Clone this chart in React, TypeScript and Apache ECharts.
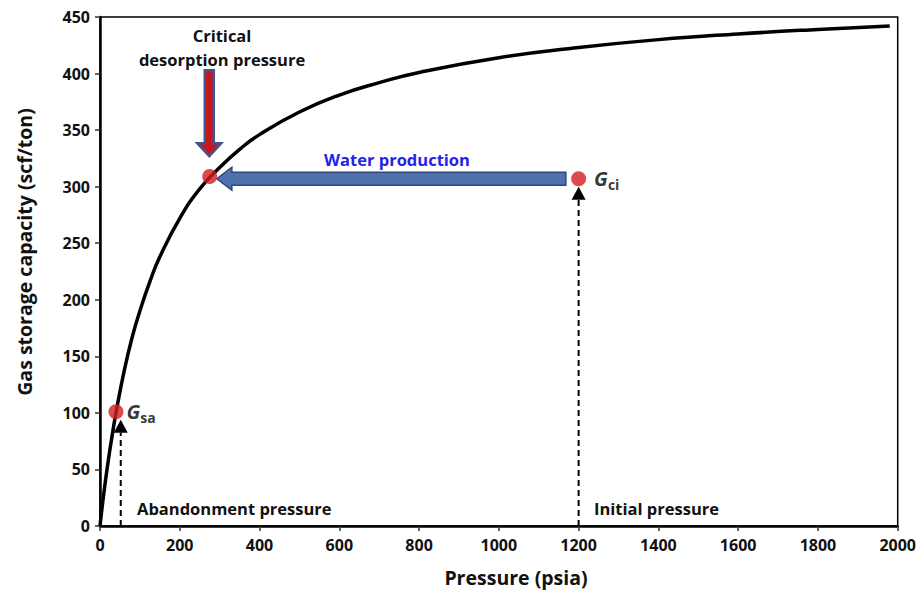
import React, { useEffect, useRef } from "react";
import * as echarts from "echarts";

// Langmuir-type isotherm
const pressures = [0, 10, 20, 30, 40, 60, 80, 100, 125, 150, 200, 250, 300, 350, 400, 500, 600, 700, 800, 1000, 1200, 1400, 1600, 1800, 1980];
const capacities = [0, 30, 56, 79, 100, 136, 166, 190, 216, 238, 272, 298, 317, 333, 346, 366, 381, 392, 401, 414, 423, 430, 435, 439, 442];

// Key points [pressure, capacity]
const pointGsa = [40, 101];
const pointCritical = [275, 309];
const pointGci = [1200, 307];

// Arrows [x1, y1, x2, y2] in data units
const criticalArrow = [274, 403, 274, 327];
const waterArrow = [1168, 307, 293, 307];
const abandonArrow = [52, 0, 52, 94];
const initialArrow = [1200, 0, 1200, 300];

const xTicks = { min: 0, max: 2000, interval: 200 };
const yTicks = { min: 0, max: 450, interval: 50 };

const FONT = "'Open Sans', 'DejaVu Sans', sans-serif";

const blockStyles = [
  { fill: "#c8161e", stroke: "#3e5590", lineWidth: 2.5, shaft: 9, head: 24, headLen: 13 },
  { fill: "#5070ad", stroke: "#2f4878", lineWidth: 1.5, shaft: 13, head: 23, headLen: 15 },
];

function arrowGeom(api: any, headLen: number) {
  const a = api.coord([api.value(0), api.value(1)]);
  const b = api.coord([api.value(2), api.value(3)]);
  const dx = b[0] - a[0];
  const dy = b[1] - a[1];
  const len = Math.sqrt(dx * dx + dy * dy) || 1;
  const ux = dx / len;
  const uy = dy / len;
  const nx = -uy;
  const ny = ux;
  const base = [b[0] - ux * headLen, b[1] - uy * headLen];
  return { a, b, base, nx, ny };
}

export default function App() {
  const ref = useRef<HTMLDivElement>(null);
  useEffect(() => {
    if (!ref.current) return;
    const chart = echarts.init(ref.current, null, { renderer: "svg" });

    const labelRich = {
      g: { fontFamily: FONT, fontSize: 20, fontStyle: "italic", fontWeight: "bold", color: "#000", lineHeight: 26, verticalAlign: "middle" },
      s: { fontFamily: FONT, fontSize: 14, fontWeight: "bold", color: "#000", lineHeight: 14, verticalAlign: "bottom" },
    };

    const tickLabel = { fontFamily: FONT, fontWeight: "bold", fontSize: 16, color: "#111", formatter: (v: number) => String(v) };

    const option: any = {
      animation: false,
      backgroundColor: "#fff",
      grid: { left: 100, right: 19, top: 17, bottom: 64, show: true, borderColor: "#000", borderWidth: 1.5 },
      xAxis: {
        type: "value",
        min: xTicks.min,
        max: xTicks.max,
        interval: xTicks.interval,
        axisLine: { show: true, onZero: false, lineStyle: { color: "#000", width: 2.5 } },
        axisTick: { show: true, length: 5, lineStyle: { color: "#333", width: 1.5 } },
        axisLabel: { ...tickLabel, margin: 11 },
        splitLine: { show: false },
      },
      yAxis: {
        type: "value",
        min: yTicks.min,
        max: yTicks.max,
        interval: yTicks.interval,
        axisLine: { show: true, onZero: false, lineStyle: { color: "#000", width: 2.5 } },
        axisTick: { show: true, length: 5, lineStyle: { color: "#333", width: 1.5 } },
        axisLabel: { ...tickLabel, margin: 10 },
        splitLine: { show: false },
      },
      graphic: [
        { type: "text", x: 222, y: 35, style: { text: "Critical", font: `bold 16.5px ${FONT}`, fill: "#111", align: "center", verticalAlign: "middle" } },
        { type: "text", x: 222, y: 59, style: { text: "desorption pressure", font: `bold 16.5px ${FONT}`, fill: "#111", align: "center", verticalAlign: "middle" } },
        { type: "text", x: 397, y: 159, style: { text: "Water production", font: `bold 16.5px ${FONT}`, fill: "#2323ea", align: "center", verticalAlign: "middle" } },
        { type: "text", x: 137, y: 508, style: { text: "Abandonment pressure", font: `bold 16.5px ${FONT}`, fill: "#111", align: "left", verticalAlign: "middle" } },
        { type: "text", x: 594, y: 508, style: { text: "Initial pressure", font: `bold 16.5px ${FONT}`, fill: "#111", align: "left", verticalAlign: "middle" } },
        { type: "text", x: 516, y: 577, style: { text: "Pressure (psia)", font: `bold 19.5px ${FONT}`, fill: "#111", align: "center", verticalAlign: "middle" } },
        { type: "text", x: 24, y: 252, rotation: Math.PI / 2, style: { text: "Gas storage capacity (scf/ton)", font: `bold 19.5px ${FONT}`, fill: "#111", align: "center", verticalAlign: "middle" } },
      ],
      series: [
        {
          type: "line",
          data: pressures.map((p, i) => [p, capacities[i]]),
          showSymbol: false,
          smooth: true,
          lineStyle: { color: "#000", width: 3.5 },
          z: 2,
          silent: true,
        },
        {
          type: "custom",
          z: 3,
          silent: true,
          encode: { x: [0, 2], y: [1, 3] },
          data: [criticalArrow, waterArrow],
          renderItem: (params: any, api: any) => {
            const st = blockStyles[params.dataIndex];
            const { a, b, base, nx, ny } = arrowGeom(api, st.headLen);
            const sw = st.shaft / 2;
            const hw = st.head / 2;
            const pts = [
              [a[0] + nx * sw, a[1] + ny * sw],
              [base[0] + nx * sw, base[1] + ny * sw],
              [base[0] + nx * hw, base[1] + ny * hw],
              [b[0], b[1]],
              [base[0] - nx * hw, base[1] - ny * hw],
              [base[0] - nx * sw, base[1] - ny * sw],
              [a[0] - nx * sw, a[1] - ny * sw],
            ];
            return { type: "polygon", shape: { points: pts }, style: { fill: st.fill, stroke: st.stroke, lineWidth: st.lineWidth, lineJoin: "miter" } };
          },
        },
        {
          type: "custom",
          z: 3,
          silent: true,
          encode: { x: [0, 2], y: [1, 3] },
          data: [abandonArrow, initialArrow],
          renderItem: (params: any, api: any) => {
            const { a, b, base, nx, ny } = arrowGeom(api, 13);
            const hw = 7;
            return {
              type: "group",
              children: [
                { type: "line", shape: { x1: a[0], y1: a[1], x2: base[0], y2: base[1] }, style: { stroke: "#000", lineWidth: 2, lineDash: [6, 4] } },
                {
                  type: "polygon",
                  shape: { points: [[b[0], b[1]], [base[0] + nx * hw, base[1] + ny * hw], [base[0] - nx * hw, base[1] - ny * hw]] },
                  style: { fill: "#000" },
                },
              ],
            };
          },
        },
        {
          type: "scatter",
          z: 5,
          silent: true,
          symbolSize: 15,
          itemStyle: { color: "#d61c24" },
          data: [
            { value: pointGsa, label: { show: true, position: "right", distance: 3, formatter: "{g|G}{s|sa}", rich: labelRich } },
            { value: pointCritical },
            { value: pointGci, label: { show: true, position: "right", distance: 8, formatter: "{g|G}{s|ci}", rich: labelRich } },
          ],
        },
      ],
    };
    chart.setOption(option);
    return () => chart.dispose();
  }, []);
  return <div ref={ref} style={{ position: "fixed", left: 0, top: 0, width: 919, height: 590, background: "#fff" }} />;
}
